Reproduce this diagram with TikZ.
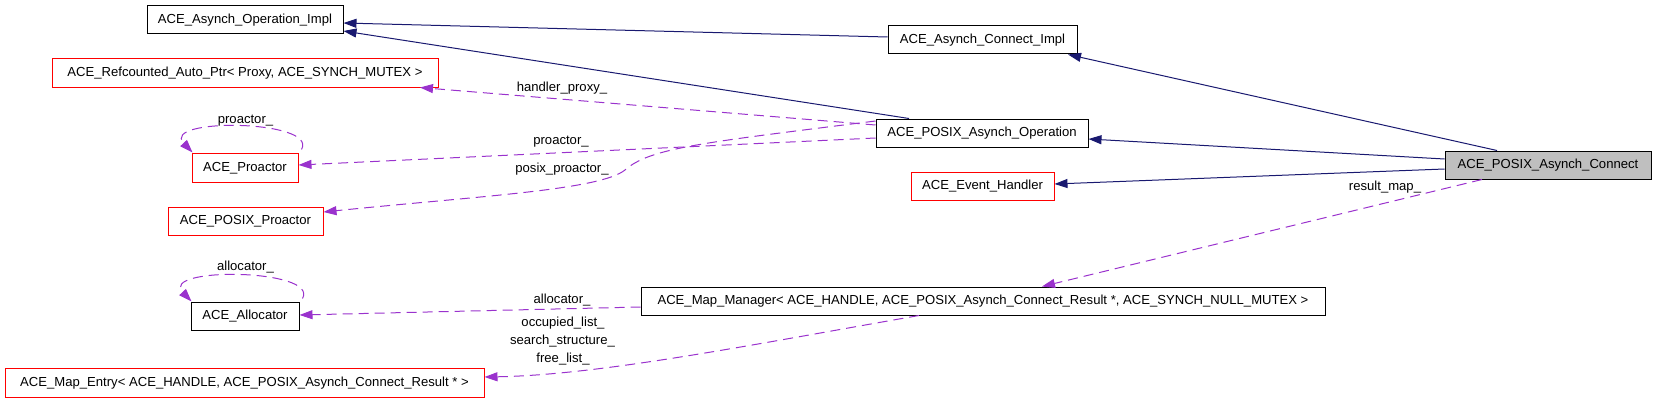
\documentclass[tikz,border=0pt]{standalone}
\usepackage{fontspec}
\setmainfont{Liberation Sans}
\usetikzlibrary{arrows.meta,calc}
\definecolor{navy}{HTML}{191970}
\definecolor{orchid}{HTML}{9A32CD}
\definecolor{boxred}{HTML}{FF0000}
\definecolor{boxgray}{HTML}{BFBFBF}
\begin{document}
\begin{tikzpicture}[x=1pt,y=-1pt,
  every node/.style={font=\fontsize{13.1}{16}\selectfont, text height=9.5pt, text depth=2.5pt, inner sep=0pt},
  cls/.style={draw=black, line width=1pt, fill=white, minimum height=28pt},
  redcls/.style={cls, draw=boxred},
  inh/.style={draw=navy, line width=1pt, -{Triangle[length=13pt,width=9pt]}},
  dep/.style={draw=orchid, line width=1pt, dash pattern=on 10pt off 6pt, -{Triangle[length=13pt,width=9pt]}},
  lbl/.style={}]
\useasboundingbox (0,0) rectangle (1656,404);
% class boxes
\node[cls, minimum width=196pt] (opimpl) at (245,20) {ACE\_Asynch\_Operation\_Impl};
\node[redcls, minimum width=386pt] (refc) at (245,73) {ACE\_Refcounted\_Auto\_Ptr< Proxy, ACE\_SYNCH\_MUTEX >};
\node[redcls, minimum width=106pt, minimum height=29pt] (proactor) at (245,167.5) {ACE\_Proactor};
\node[redcls, minimum width=155pt] (pproactor) at (245.5,221) {ACE\_POSIX\_Proactor};
\node[cls, minimum width=108pt] (allocator) at (245,316) {ACE\_Allocator};
\node[redcls, minimum width=479pt, minimum height=29pt] (mapentry) at (244.5,382.5) {ACE\_Map\_Entry< ACE\_HANDLE, ACE\_POSIX\_Asynch\_Connect\_Result * >};
\node[cls, minimum width=189pt] (connimpl) at (982.5,40) {ACE\_Asynch\_Connect\_Impl};
\node[cls, minimum width=212pt] (pop) at (982,133) {ACE\_POSIX\_Asynch\_Operation};
\node[redcls, minimum width=143pt] (evh) at (982.5,186) {ACE\_Event\_Handler};
\node[cls, minimum width=684pt] (mapmgr) at (983,301) {ACE\_Map\_Manager< ACE\_HANDLE, ACE\_POSIX\_Asynch\_Connect\_Result *, ACE\_SYNCH\_NULL\_MUTEX >};
\node[cls, fill=boxgray, minimum width=206pt] (pac) at (1548,165) {ACE\_POSIX\_Asynch\_Connect};
% inheritance
\draw[inh] ([yshift=3pt]connimpl.west) -- ([yshift=-3pt]opimpl.east);
\draw[inh] ([xshift=-73pt]pop.north) -- ([yshift=-11pt]opimpl.east);
\draw[inh] ([xshift=-51pt]pac.north) -- ([xshift=85.5pt]connimpl.south);
\draw[inh] ([yshift=6pt]pac.west) -- ([yshift=-6pt]pop.east);
\draw[inh] ([yshift=-4pt]pac.west) -- ([yshift=2pt]evh.east);
% usage
\draw[dep] ([xshift=-66pt]pac.south) -- ([xshift=59pt]mapmgr.north);
\draw[dep] ([yshift=8pt]pop.west) -- ([xshift=175pt]refc.south);
\draw[dep] ([yshift=-5pt]pop.west) -- ([yshift=2.5pt]proactor.east);
\coordinate (ppmid) at (625,170);
\draw[dep] ([yshift=12pt]pop.west) .. controls (700,143) and (650,148) .. (ppmid) .. controls (600,190) and (480,196) .. ([yshift=9pt]pproactor.east);
\draw[dep] ([yshift=-6pt]mapmgr.west) -- ([yshift=1pt]allocator.east);
\draw[dep] ([xshift=-64pt]mapmgr.south) .. controls (750,345) and (600,375) .. ([yshift=5.5pt]mapentry.east);
\draw[dep] ([xshift=3pt,yshift=3pt]proactor.north east) .. controls ($(proactor.north east)+(20,-33)$) and ($(proactor.north west)+(-32,-35)$) .. ([xshift=1pt]proactor.north west);
\draw[dep] ([xshift=3pt,yshift=3pt]allocator.north east) .. controls ($(allocator.north east)+(20,-33)$) and ($(allocator.north west)+(-32,-35)$) .. ([xshift=1pt]allocator.north west);
% labels
\node[lbl] (lproself) at (245.5,120) {proactor\_};
\node[lbl] (lallocself) at (245.5,267) {allocator\_};
\node[lbl] (lhp) at (562,88) {handler\_proxy\_};
\node[lbl] (lpro) at (561,141) {proactor\_};
\node[lbl] (lppro) at (562,169) {posix\_proactor\_};
\node[lbl] (lrm) at (1385,187) {result\_map\_};
\node[lbl] (lalloc) at (562,300) {allocator\_};
\node[lbl] (locc) at (563,323) {occupied\_list\_};
\node[lbl] (lsearch) at (562.5,341) {search\_structure\_};
\node[lbl] (lfree) at (563,359) {free\_list\_};
\end{tikzpicture}
\end{document}
